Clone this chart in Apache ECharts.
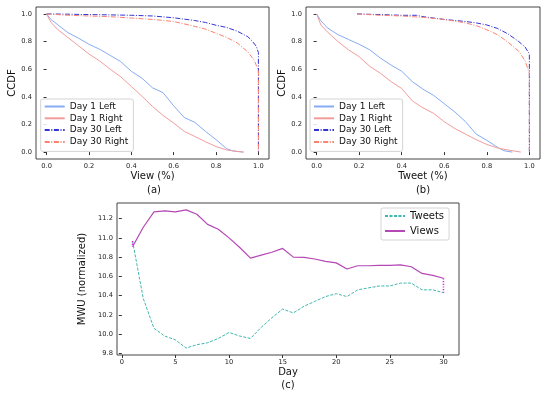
<!DOCTYPE html>
<html>
<head>
<meta charset="utf-8">
<script src="https://cdn.jsdelivr.net/npm/echarts@6/dist/echarts.min.js"></script>
<style>
html,body{margin:0;padding:0;background:#fff;}
#chart{width:548px;height:399px;}
</style>
</head>
<body>
<div id="chart"></div>
<script>
// CCDF curves, [share, ccdf] pairs
const viewDay1Left = [[0,1.0],[0.02,0.96],[0.05,0.925],[0.1,0.865],[0.15,0.825],[0.2,0.78],[0.25,0.745],[0.3,0.70],[0.35,0.655],[0.4,0.585],[0.45,0.535],[0.5,0.465],[0.55,0.43],[0.6,0.335],[0.65,0.25],[0.7,0.215],[0.75,0.15],[0.8,0.09],[0.85,0.025],[0.88,0.008],[0.93,0.0]];
const viewDay1Right = [[0,1.0],[0.02,0.94],[0.05,0.89],[0.1,0.83],[0.15,0.77],[0.2,0.71],[0.25,0.66],[0.3,0.60],[0.35,0.545],[0.4,0.475],[0.45,0.405],[0.5,0.33],[0.55,0.265],[0.6,0.21],[0.65,0.15],[0.7,0.113],[0.75,0.075],[0.8,0.04],[0.85,0.015],[0.9,0.005],[0.93,0.0]];
const viewDay30Left = [[0,1.0],[0.1,0.998],[0.2,0.995],[0.3,0.993],[0.4,0.99],[0.5,0.985],[0.6,0.972],[0.7,0.952],[0.75,0.938],[0.8,0.918],[0.85,0.902],[0.9,0.875],[0.95,0.835],[0.97,0.805],[0.99,0.765],[1.0,0.72],[1.0,0.0]];
const viewDay30Right = [[0,1.0],[0.1,0.99],[0.2,0.985],[0.3,0.98],[0.4,0.97],[0.5,0.96],[0.6,0.945],[0.7,0.91],[0.75,0.89],[0.8,0.86],[0.85,0.83],[0.9,0.79],[0.95,0.725],[0.98,0.665],[1.0,0.59],[1.0,0.0]];

const tweetDay1Left = [[0,1.0],[0.02,0.95],[0.05,0.9],[0.1,0.85],[0.15,0.815],[0.2,0.78],[0.25,0.74],[0.3,0.68],[0.35,0.63],[0.4,0.585],[0.45,0.51],[0.5,0.455],[0.55,0.41],[0.6,0.35],[0.65,0.29],[0.7,0.22],[0.75,0.13],[0.8,0.085],[0.85,0.035],[0.88,0.01],[0.92,0.0]];
const tweetDay1Right = [[0,1.0],[0.02,0.92],[0.05,0.87],[0.1,0.80],[0.15,0.74],[0.2,0.69],[0.25,0.62],[0.3,0.57],[0.35,0.51],[0.4,0.46],[0.45,0.37],[0.5,0.32],[0.55,0.28],[0.6,0.22],[0.65,0.17],[0.7,0.13],[0.75,0.09],[0.8,0.055],[0.85,0.03],[0.9,0.015],[0.96,0.0]];
const tweetDay30Left = [[0.19,1.0],[0.3,0.995],[0.4,0.99],[0.47,0.99],[0.5,0.98],[0.6,0.96],[0.7,0.945],[0.75,0.935],[0.8,0.92],[0.85,0.895],[0.9,0.855],[0.95,0.80],[0.98,0.76],[1.0,0.71],[1.0,0.0]];
const tweetDay30Right = [[0.19,1.0],[0.3,0.99],[0.4,0.985],[0.5,0.975],[0.6,0.96],[0.7,0.935],[0.75,0.915],[0.8,0.885],[0.85,0.85],[0.9,0.795],[0.95,0.73],[0.98,0.66],[1.0,0.57],[1.0,0.0]];

// MWU per day
const days = [1,2,3,4,5,6,7,8,9,10,11,12,13,14,15,16,17,18,19,20,21,22,23,24,25,26,27,28,29,30];
const mwuTweets = [10.966,10.37,10.06,9.98,9.94,9.855,9.89,9.91,9.955,10.017,9.98,9.955,10.07,10.17,10.26,10.22,10.29,10.34,10.39,10.42,10.39,10.46,10.48,10.50,10.50,10.53,10.53,10.46,10.46,10.43];
const mwuViews = [10.907,11.11,11.27,11.28,11.27,11.29,11.245,11.14,11.09,11.0,10.90,10.79,10.82,10.85,10.89,10.80,10.797,10.78,10.755,10.74,10.676,10.71,10.71,10.714,10.714,10.72,10.70,10.63,10.61,10.58];

const ccdfTicks = [0, 0.2, 0.4, 0.6, 0.8, 1.0];
const dayTicks = [0, 5, 10, 15, 20, 25, 30];
const mwuTicks = [9.8, 10.0, 10.2, 10.4, 10.6, 10.8, 11.0, 11.2];

const legendNames = ['Day 1 Left', 'Day 1 Right', 'Day 30 Left', 'Day 30 Right'];
const FONT = 'DejaVu Sans';

function axis(grid, min, max, ticks, name, gap, digits) {
    return {
        type: 'value', gridIndex: grid, min: min, max: max,
        name: name, nameLocation: 'middle', nameGap: gap,
        nameTextStyle: {fontSize: 10, color: '#111', fontFamily: FONT},
        axisLine: {show: false},
        axisTick: {show: true, length: 3, customValues: ticks, lineStyle: {color: '#333'}},
        axisLabel: {
            customValues: ticks, margin: 4, fontSize: 6.7, color: '#222', fontFamily: FONT,
            formatter: v => v.toFixed(digits)
        },
        splitLine: {show: false}
    };
}

function line(name, data, x, color, type, width) {
    return {
        name: name, type: 'line', xAxisIndex: x, yAxisIndex: x, data: data,
        symbol: 'none', silent: true, animation: false,
        lineStyle: {color: color, width: width || 1, type: type || 'solid'},
        itemStyle: {color: color}
    };
}

function legend(left, top, names, opts) {
    return Object.assign({
        orient: 'vertical', left: left, top: top, data: names, selectedMode: false,
        itemWidth: 20, itemHeight: 10, itemGap: 2.8, padding: [3, 5, 5, 3],
        backgroundColor: 'rgba(255,255,255,0.85)', borderColor: '#d4d4d4',
        borderWidth: 1, borderRadius: 2,
        itemStyle: {color: 'rgba(0,0,0,0)', borderColor: 'rgba(0,0,0,0)', borderWidth: 0},
        textStyle: {fontSize: 9, color: '#111', fontFamily: FONT}
    }, opts || {});
}

const dashDot = [5, 1.6, 1, 1.6];
const c1L = '#86acf3', c1R = '#f39c9c', c30L = '#3434d4', c30R = '#fc8270';

const chart = echarts.init(document.getElementById('chart'));
chart.setOption({
    backgroundColor: '#fff',
    animation: false,
    grid: [
        {left: 36, top: 7, width: 233, height: 152, show: true, borderColor: '#444', borderWidth: 1},
        {left: 306, top: 7, width: 234, height: 152, show: true, borderColor: '#444', borderWidth: 1},
        {left: 117, top: 203, width: 342, height: 152, show: true, borderColor: '#444', borderWidth: 1}
    ],
    xAxis: [
        axis(0, -0.05, 1.05, ccdfTicks, 'View (%)', 12, 1),
        axis(1, -0.05, 1.05, ccdfTicks, 'Tweet (%)', 12, 1),
        axis(2, -0.45, 31.45, dayTicks, 'Day', 12, 0)
    ],
    yAxis: [
        axis(0, -0.05, 1.05, ccdfTicks, 'CCDF', 19, 1),
        axis(1, -0.05, 1.05, ccdfTicks, 'CCDF', 19, 1),
        axis(2, 9.783, 11.362, mwuTicks, 'MWU (normalized)', 22, 1)
    ],
    legend: [
        legend(40.7, 99, legendNames),
        legend(310, 99, legendNames),
        legend(381, 208, ['Tweets', 'Views'], {itemGap: 5, padding: [3, 5, 4, 3], textStyle: {fontSize: 10, color: '#111', fontFamily: FONT}})
    ],
    graphic: [
        {type: 'text', x: 154, y: 190.5, style: {text: '(a)', fontSize: 10, fontFamily: FONT, fill: '#111', align: 'center', verticalAlign: 'middle'}},
        {type: 'text', x: 423, y: 190.5, style: {text: '(b)', fontSize: 10, fontFamily: FONT, fill: '#111', align: 'center', verticalAlign: 'middle'}},
        {type: 'text', x: 288, y: 385.5, style: {text: '(c)', fontSize: 10, fontFamily: FONT, fill: '#111', align: 'center', verticalAlign: 'middle'}}
    ],
    series: [
        line('Day 1 Left', viewDay1Left, 0, c1L),
        line('Day 1 Right', viewDay1Right, 0, c1R),
        line('Day 30 Left', viewDay30Left, 0, c30L, dashDot),
        line('Day 30 Right', viewDay30Right, 0, c30R, dashDot),
        line('Day 1 Left', tweetDay1Left, 1, c1L),
        line('Day 1 Right', tweetDay1Right, 1, c1R),
        line('Day 30 Left', tweetDay30Left, 1, c30L, dashDot),
        line('Day 30 Right', tweetDay30Right, 1, c30R, dashDot),
        line('Tweets', days.map((d, i) => [d, mwuTweets[i]]), 2, '#3fb8b0', [3, 1.5]),
        line('Views', days.map((d, i) => [d, mwuViews[i]]), 2, '#b548b5', 'solid', 1.2),
        line('gapStart', [[days[0], mwuTweets[0]], [days[0], mwuViews[0]]], 2, '#d62ad6', [1.2, 1.5], 1.5),
        line('gapEnd', [[days[29], mwuViews[29]], [days[29], mwuTweets[29]]], 2, '#d62ad6', [1.2, 1.5], 1.5)
    ]
});
</script>
</body>
</html>
